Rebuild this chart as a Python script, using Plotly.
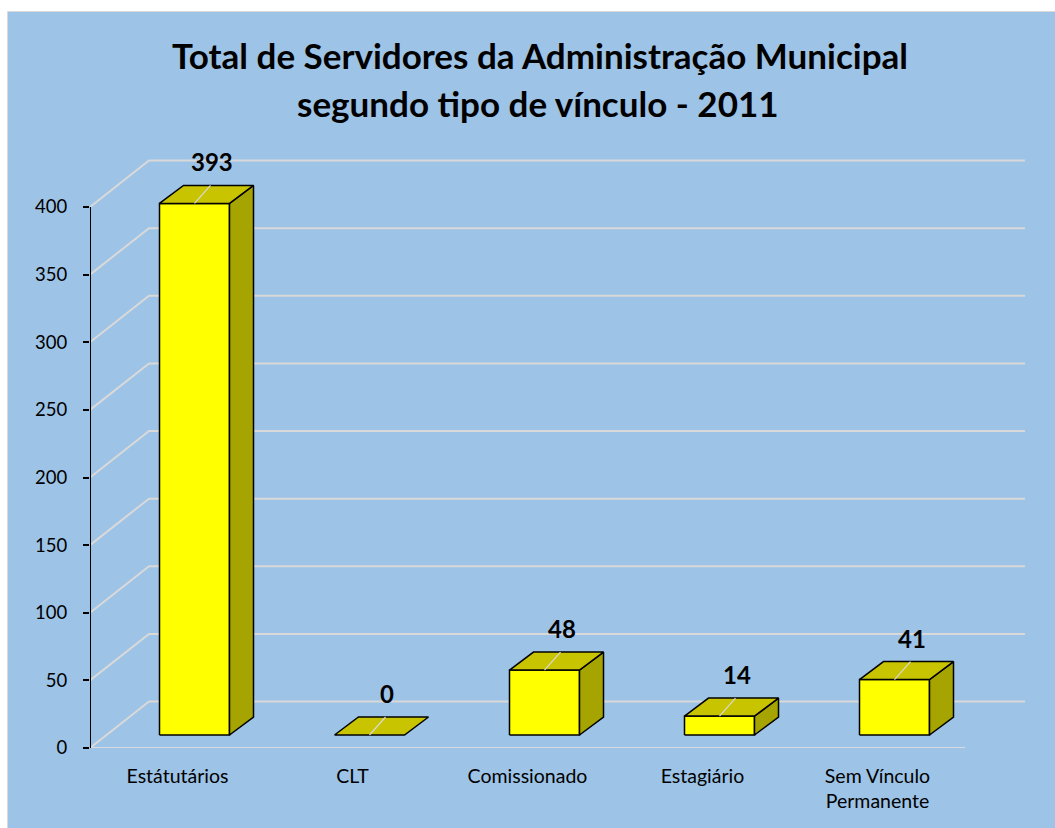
import plotly.graph_objects as go

# ---- data ----
categories = ["Estátutários", "CLT", "Comissionado", "Estagiário", "Sem Vínculo<br>Permanente"]
values = [393, 0, 48, 14, 41]
y_ticks = [0, 50, 100, 150, 200, 250, 300, 350, 400]
title_lines = ["Total de Servidores da Administração Municipal", "segundo tipo de vínculo - 2011"]

# ---- layout geometry (pixels) ----
W, H = 1055, 828
ML, MR, MB, MT = 90, 30, 80, 139
PW, PH = W - ML - MR, H - MT - MB
PX_X = 175.0          # pixels per category
PX_Y = 1.3525         # pixels per unit
XMIN = -0.5
XMAX = XMIN + PW / PX_X
YMAX = PH / PX_Y
N = len(categories)


def px_to_paper_x(px):
    return (px - ML) / PW


def px_to_paper_y(py):
    return 1 - (py - MT) / PH


# 3-D offsets (converted to data units)
WDX, WDY = 59 / PX_X, 46.5 / PX_Y      # back wall depth
BOX, BOY = 17 / PX_X, 13 / PX_Y        # bar front-plane offset
BDX, BDY = 24 / PX_X, 18 / PX_Y        # bar depth
BW = 70 / PX_X                          # bar width

BG = "#9DC3E6"
GRID = "#D9D9D9"
FRONT = "#FFFF00"
TOP = "#C8C400"
SIDE = "#A6A400"
FONT = "Lato"

fig = go.Figure()

# gridlines (side wall + back wall)
for t in y_ticks:
    xs = [XMIN, XMIN + WDX, XMAX]
    ys = [t, t + WDY, t + WDY]
    fig.add_trace(go.Scatter(x=xs, y=ys, mode="lines", line=dict(color=GRID, width=2),
                             hoverinfo="skip", showlegend=False))
# floor front edge
fig.add_trace(go.Scatter(x=[XMIN, XMIN + N], y=[0, 0], mode="lines",
                         line=dict(color=GRID, width=2), hoverinfo="skip", showlegend=False))

# y axis line
fig.add_trace(go.Scatter(x=[XMIN, XMIN], y=[0, y_ticks[-1]], mode="lines",
                         line=dict(color="black", width=2), hoverinfo="skip", showlegend=False))


def poly(xs, ys, color):
    fig.add_trace(go.Scatter(x=xs + [xs[0]], y=ys + [ys[0]], mode="lines", fill="toself",
                             fillcolor=color, line=dict(color="black", width=1.5),
                             hoverinfo="skip", showlegend=False))


annotations = []
for i, v in enumerate(values):
    xl = i + BOX - BW / 2
    xr = i + BOX + BW / 2
    y0 = BOY
    y1 = BOY + v
    if v > 0:
        poly([xl, xr, xr, xl], [y0, y0, y1, y1], FRONT)
        poly([xr, xr + BDX, xr + BDX, xr], [y0, y0 + BDY, y1 + BDY, y1], SIDE)
    poly([xl, xr, xr + BDX, xl + BDX], [y1, y1, y1 + BDY, y1 + BDY], TOP)
    # leader line
    fig.add_trace(go.Scatter(x=[i + BOX, i + BOX + 16 / PX_X], y=[y1, y1 + BDY], mode="lines",
                             line=dict(color=GRID, width=1.2), hoverinfo="skip", showlegend=False))
    annotations.append(dict(x=i + BOX + 17 / PX_X, y=y1 + BDY + 23.5 / PX_Y, text=f"<b>{v}</b>",
                            showarrow=False, xanchor="center", yanchor="middle",
                            font=dict(family=FONT, size=24, color="black")))

for txt, (cx, cy) in zip(title_lines, [(540, 55), (538, 103)]):
    annotations.append(dict(xref="paper", yref="paper", x=px_to_paper_x(cx), y=px_to_paper_y(cy),
                            xanchor="center", yanchor="middle", text=f"<b>{txt}</b>", showarrow=False,
                            font=dict(family=FONT, size=35, color="black")))

# chart-area background (blue panel with thin grey border)
shapes = [dict(type="rect", xref="paper", yref="paper", layer="below",
               x0=px_to_paper_x(7.5), x1=px_to_paper_x(W + 5),
               y0=px_to_paper_y(H + 5), y1=px_to_paper_y(11.5),
               fillcolor=BG, line=dict(color=GRID, width=1))]

fig.update_layout(
    width=W, height=H,
    margin=dict(l=ML, r=MR, t=MT, b=MB, pad=0),
    paper_bgcolor="white", plot_bgcolor="rgba(0,0,0,0)",
    showlegend=False,
    annotations=annotations,
    shapes=shapes,
    xaxis=dict(range=[XMIN, XMAX], tickmode="array", tickvals=list(range(N)), ticktext=categories,
               showgrid=False, zeroline=False, showline=False, ticks="",
               tickfont=dict(family=FONT, size=19.5, color="black"), ticklabelstandoff=14),
    yaxis=dict(range=[0, YMAX], tickmode="array", tickvals=y_ticks, showgrid=False, zeroline=False,
               showline=False, ticks="outside", ticklen=6, tickwidth=2, tickcolor="black",
               tickfont=dict(family=FONT, size=18.5, color="black"), ticklabelstandoff=12),
)

fig.write_html("out.html", config={"displayModeBar": False},
               post_script="document.body.style.margin='0px';document.body.style.overflow='hidden';")
